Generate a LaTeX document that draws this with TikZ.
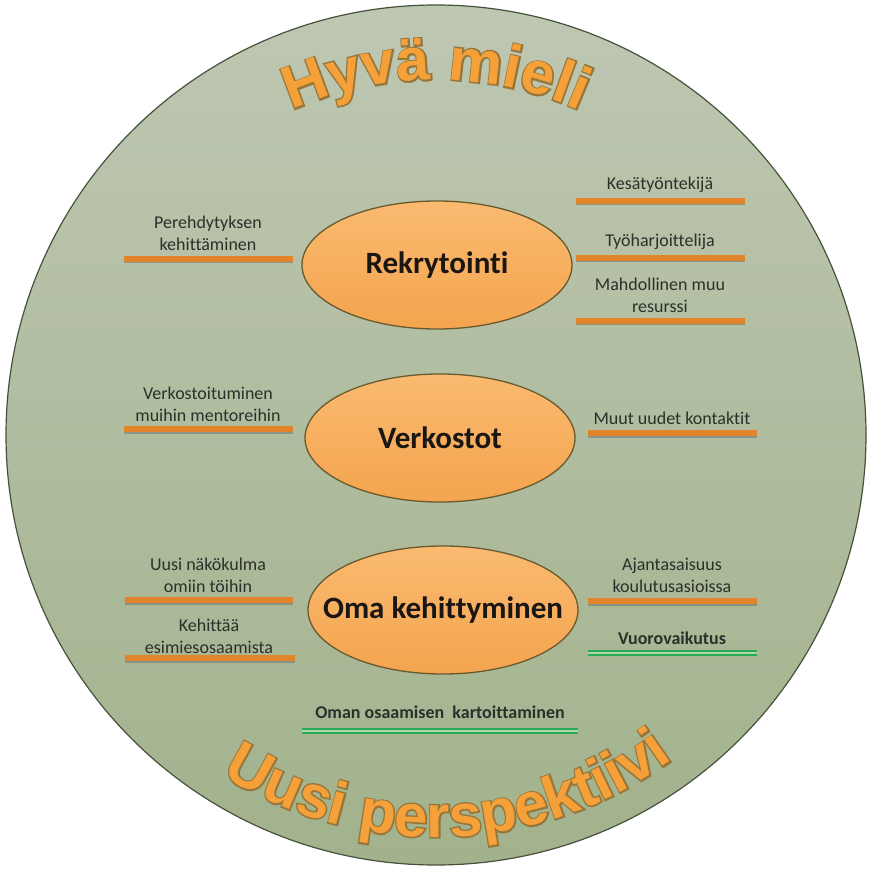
\documentclass[tikz,border=0pt]{standalone}
\usepackage{fontspec}
\setmainfont{Carlito}[Ligatures=NoCommon]
\newfontfamily\arcfamily{Liberation Sans}
\newfontfamily\arcfamilyedge{Liberation Sans}[FakeBold=5]
\usetikzlibrary{shapes.geometric,decorations.text}

\definecolor{discTop}{RGB}{190,199,178}
\definecolor{discBottom}{RGB}{162,178,140}
\definecolor{discEdge}{RGB}{70,82,60}
\definecolor{hubTop}{RGB}{250,186,112}
\definecolor{hubBottom}{RGB}{244,164,78}
\definecolor{hubEdge}{RGB}{105,90,45}
\definecolor{inkDark}{RGB}{25,22,20}
\definecolor{inkGrey}{RGB}{42,48,42}
\definecolor{barOrange}{RGB}{226,132,42}
\definecolor{barShadow}{RGB}{118,134,124}
\definecolor{twinGreen}{RGB}{40,170,88}
\definecolor{twinGap}{RGB}{180,212,165}
\definecolor{arcFill}{RGB}{245,160,56}
\definecolor{arcEdge}{RGB}{150,118,58}

\newcommand\arcFont{\arcfamily\bfseries\fontsize{60}{60}\selectfont}
\newcommand\arcEdgeFont{\arcfamilyedge\bfseries\fontsize{60}{60}\selectfont}

% orange underline with its soft shadow, between two named coordinates
\newcommand\tagrule[2]{%
  \draw[barshade] ([yshift=-3pt]#1) -- ([yshift=-3pt]#2);
  \draw[bar] (#1) -- (#2);}

\begin{document}
\begin{tikzpicture}[x=1pt,y=1pt,
  hub/.style={ellipse, draw=hubEdge, line width=1.3pt, top color=hubTop,
    bottom color=hubBottom, minimum width=270pt, minimum height=128pt,
    inner sep=-45pt, text=inkDark, font=\fontsize{31}{36}\selectfont\bfseries},
  tag/.style={align=center, inner sep=0pt, text=inkGrey,
    font=\fontsize{18}{22}\selectfont},
  tagbold/.style={tag, font=\fontsize{18}{22}\selectfont\bfseries},
  bar/.style={line width=5.5pt, draw=barOrange},
  barshade/.style={line width=3pt, draw=barShadow, opacity=0.7},
  twin/.style={draw=twinGreen, line width=2pt, double=twinGap,
    double distance=1.8pt},
  arctop/.style 2 args={decorate, decoration={text along path, text align=center,
    text color=#1, text={|#2|Hyvä mieli}}},
  arclow/.style 2 args={decorate, decoration={text along path, text align=center,
    text color=#1, text={|#2|Uusi perspektiivi}}},
]
\useasboundingbox (0,0) rectangle (871,-869);
\fill[white] (0,0) rectangle (871,-869);

% disc
\coordinate (c) at (436,-435);
\shadedraw[top color=discTop, bottom color=discBottom, draw=discEdge,
  line width=1.2pt] (c) circle[radius=430];

% curved titles: stroked copy for the outline, then the fill
\path[arctop={arcEdge}{\arcEdgeFont}] (c) ++(155:355)
  arc[start angle=155, end angle=25, radius=355];
\path[arctop={arcFill}{\arcFont}] (c) ++(155:355)
  arc[start angle=155, end angle=25, radius=355];
\path[arclow={arcEdge}{\arcEdgeFont}] (c) ++(204:402)
  arc[start angle=204, end angle=340, radius=402];
\path[arclow={arcFill}{\arcFont}] (c) ++(204:402)
  arc[start angle=204, end angle=340, radius=402];

% hubs
\node[hub] (rek) at (437,-265) {Rekrytointi};
\node[hub] (ver) at (440,-438) {Verkostot};
\node[hub] (oma) at (443,-610) {Oma kehittyminen};

% labels
\node[tag] (pere) at (208,-233) {Perehdytyksen\\kehittäminen};
\node[tag] (kesa) at (660,-185) {Kesätyöntekijä};
\node[tag] (tyoh) at (660,-242) {Työharjoittelija};
\node[tag] (mahd) at (660,-295) {Mahdollinen muu\\resurssi};
\node[tag] (verk) at (208,-404) {Verkostoituminen\\muihin mentoreihin};
\node[tag] (muut) at (672,-418) {Muut uudet kontaktit};
\node[tag] (uusi) at (208,-575) {Uusi näkökulma\\omiin töihin};
\node[tag] (kehi) at (209,-636) {Kehittää\\esimiesosaamista};
\node[tag] (ajan) at (672,-575) {Ajantasaisuus\\koulutusasioissa};
\node[tagbold] (vuor) at (672,-638) {Vuorovaikutus};
\node[tagbold] (oman) at (440,-712) {Oman osaamisen\ \ kartoittaminen};

% underline end points
\coordinate (pereA) at (124,-259); \coordinate (pereB) at (293,-259);
\coordinate (kesaA) at (576,-201); \coordinate (kesaB) at (745,-201);
\coordinate (tyohA) at (576,-258); \coordinate (tyohB) at (745,-258);
\coordinate (mahdA) at (576,-321); \coordinate (mahdB) at (745,-321);
\coordinate (verkA) at (124,-429); \coordinate (verkB) at (293,-429);
\coordinate (muutA) at (588,-433); \coordinate (muutB) at (757,-433);
\coordinate (uusiA) at (125,-600); \coordinate (uusiB) at (293,-600);
\coordinate (kehiA) at (125,-658); \coordinate (kehiB) at (295,-658);
\coordinate (ajanA) at (588,-601); \coordinate (ajanB) at (757,-601);
\coordinate (vuorA) at (588,-653); \coordinate (vuorB) at (757,-653);
\coordinate (omanA) at (302,-731); \coordinate (omanB) at (578,-731);

\tagrule{pereA}{pereB}
\tagrule{kesaA}{kesaB}
\tagrule{tyohA}{tyohB}
\tagrule{mahdA}{mahdB}
\tagrule{verkA}{verkB}
\tagrule{muutA}{muutB}
\tagrule{uusiA}{uusiB}
\tagrule{kehiA}{kehiB}
\tagrule{ajanA}{ajanB}
\draw[twin] (vuorA) -- (vuorB);
\draw[twin] (omanA) -- (omanB);
\end{tikzpicture}
\end{document}
